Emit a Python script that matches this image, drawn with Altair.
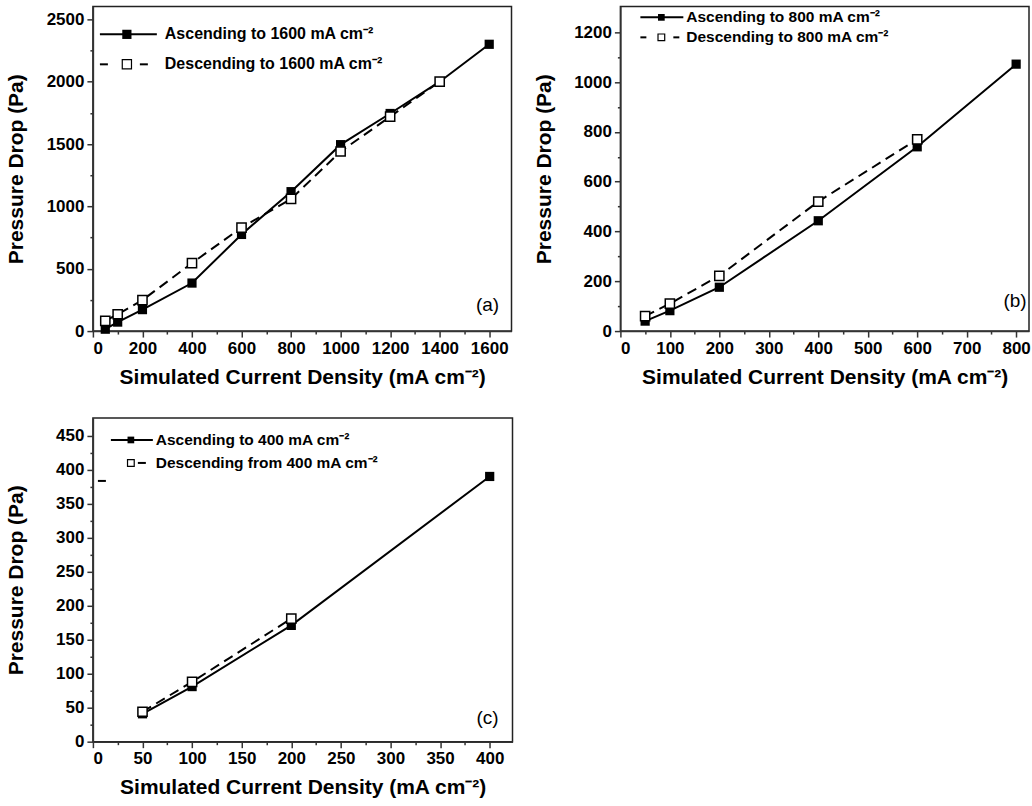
import altair as alt
import pandas as pd

# ---------------- data ----------------
# panel (a)
a_asc_x = [50, 100, 200, 400, 600, 800, 1000, 1200, 1400, 1600]
a_asc_y = [15, 72, 172, 385, 775, 1118, 1495, 1745, 2000, 2300]
a_desc_x = [50, 100, 200, 400, 600, 800, 1000, 1200, 1400]
a_desc_y = [82, 135, 248, 545, 830, 1060, 1440, 1720, 2000]
# panel (b)
b_asc_x = [50, 100, 200, 400, 600, 800]
b_asc_y = [40, 82, 176, 443, 740, 1072]
b_desc_x = [50, 100, 200, 400, 600]
b_desc_y = [60, 110, 222, 520, 770]
# panel (c)
c_asc_x = [50, 100, 200, 400]
c_asc_y = [41, 81, 171, 390]
c_desc_x = [50, 100, 200]
c_desc_y = [44, 88, 181]

a_legend = ["Ascending to 1600 mA cm\u207b\u00b2", "Descending to 1600 mA cm\u207b\u00b2"]
b_legend = ["Ascending to 800 mA cm\u207b\u00b2", "Descending to 800 mA cm\u207b\u00b2"]
c_legend = ["Ascending to 400 mA cm\u207b\u00b2", "Descending from 400 mA cm\u207b\u00b2"]

x_title = "Simulated Current Density (mA cm\u207b\u00b2)"
y_title = "Pressure Drop (Pa)"

FONT = "Liberation Sans"
one = pd.DataFrame({"k": [0]})


def ticks(maxv, step):
    vals = []
    v = 0
    while v <= maxv + 1e-9:
        vals.append(v)
        v += step
    return vals


def make_axis(maxv, major, minor, orient):
    kw = dict(
        values=ticks(maxv, minor),
        labelExpr=f"datum.value % {major} === 0 ? datum.label : ''",
        tickSize={"condition": {"test": f"datum.value % {major} === 0", "value": 6}, "value": 3},
        format="d",
        grid=False,
        labelFont=FONT, labelFontSize=17, labelFontWeight="bold", labelColor="black",
        titleFont=FONT, titleFontSize=21, titleFontWeight="bold", titleColor="black",
        domainColor="#333", domainWidth=1.5, tickColor="#333", tickWidth=1.5,
        labelPadding=3,
    )
    if orient == "left":
        kw.update(title=y_title, titleX=-66, titleAngle=-90, titleBaseline="bottom",
                  titleAlign="center")
    else:
        kw.update(title=x_title, titlePadding=10)
    return alt.Axis(**kw)


def panel(ax, ay, dx, dy, xdom, xmaj, xmin, xmaxtick, ydom, ymaj, ymin, ymaxtick,
          width, height, legend_texts, leg, tag, tagpos, stray=None):
    asc = pd.DataFrame({"x": ax, "y": ay})
    desc = pd.DataFrame({"x": dx, "y": dy})
    xs = alt.Scale(domain=xdom, nice=False, zero=False)
    ys = alt.Scale(domain=ydom, nice=False, zero=False)
    X = alt.X("x:Q", scale=xs, axis=make_axis(xmaxtick, xmaj, xmin, "bottom"))
    Y = alt.Y("y:Q", scale=ys, axis=make_axis(ymaxtick, ymaj, ymin, "left"))

    l_asc = alt.Chart(asc).mark_line(color="black", strokeWidth=2).encode(x=X, y=Y)
    l_desc = alt.Chart(desc).mark_line(color="black", strokeWidth=2, strokeDash=[10, 6]).encode(x=X, y=Y)
    p_asc = alt.Chart(asc).mark_point(shape="square", filled=True, color="black", size=85, opacity=1).encode(x=X, y=Y)
    p_desc = alt.Chart(desc).mark_point(shape="square", filled=True, fill="white", stroke="black",
                                        strokeWidth=1.5, size=85, opacity=1).encode(x=X, y=Y)

    layers = [l_asc, l_desc, p_asc, p_desc]

    # legend
    (y1, y2, lx1, lx2, sq, d1, d2, tx, sqsize, fs) = leg
    layers.append(alt.Chart(one).mark_rule(color="black", strokeWidth=2).encode(
        x=alt.value(lx1), x2=alt.value(lx2), y=alt.value(y1)))
    layers.append(alt.Chart(one).mark_point(shape="square", filled=True, color="black", size=sqsize, opacity=1).encode(
        x=alt.value(sq), y=alt.value(y1)))
    for (s, e) in (d1, d2):
        if s is None:
            continue
        layers.append(alt.Chart(one).mark_rule(color="black", strokeWidth=2).encode(
            x=alt.value(s), x2=alt.value(e), y=alt.value(y2)))
    layers.append(alt.Chart(one).mark_point(shape="square", filled=True, fill="white", stroke="black",
                                            strokeWidth=1.2, size=sqsize, opacity=1).encode(
        x=alt.value(sq), y=alt.value(y2)))
    for yy, t in ((y1, legend_texts[0]), (y2, legend_texts[1])):
        layers.append(alt.Chart(one).mark_text(align="left", baseline="middle", font=FONT, fontSize=fs,
                                               fontWeight="bold", color="black", text=t).encode(
            x=alt.value(tx), y=alt.value(yy)))
    if stray is not None:
        layers.append(alt.Chart(one).mark_rule(color="black", strokeWidth=2).encode(
            x=alt.value(stray[0]), x2=alt.value(stray[1]), y=alt.value(stray[2])))
    layers.append(alt.Chart(one).mark_text(align="center", baseline="middle", font=FONT, fontSize=19,
                                           color="black", text=tag).encode(
        x=alt.value(tagpos[0]), y=alt.value(tagpos[1])))

    return alt.layer(*layers).properties(width=width, height=height)


pa = panel(a_asc_x, a_asc_y, a_desc_x, a_desc_y,
           [0, 1690], 200, 100, 1600, [0, 2604], 500, 250, 2500,
           419, 325, a_legend,
           (28, 58, 7, 64, 34, (7, 15), (47, 55), 72, 85, 16),
           "(a)", (395, 299))
pb = panel(b_asc_x, b_asc_y, b_desc_x, b_desc_y,
           [0, 826], 100, 50, 800, [0, 1304], 200, 100, 1200,
           409, 325, b_legend,
           (11, 31, 20, 63, 41, (20, 26), (53, 59), 66, 45, 15.5),
           "(b)", (395, 295))
pc = panel(c_asc_x, c_asc_y, c_desc_x, c_desc_y,
           [0, 423], 50, 25, 400, [0, 476], 50, 25, 450,
           420, 324, c_legend,
           (22, 45, 18, 60, 38, (None, None), (45, 53), 63, 45, 15.5),
           "(c)", (395, 300), stray=(5, 13, 63))

chart = alt.vconcat(
    alt.hconcat(pa, pb, spacing=20),
    pc,
    spacing=29,
).properties(
    padding={"left": 5, "top": 5, "right": 0, "bottom": 0},
    background="white",
).configure_view(
    stroke="#222", strokeWidth=1.5
)

chart.save("out.html", embed_options={"renderer": "svg", "actions": False})
